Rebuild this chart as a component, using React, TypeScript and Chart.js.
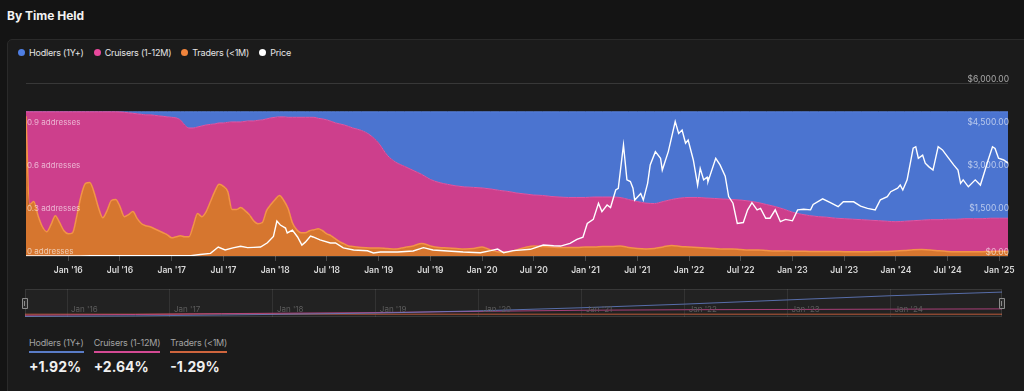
import React, { useEffect, useRef } from "react";
import { Chart, registerables } from "chart.js";

Chart.register(...registerables);

// ---------------- data (x = months since Jan 2015) ----------------
const areaMonths = [
  7.1, 7.5, 8, 8.5, 9, 9.5, 10, 10.5, 11, 11.5,
  12, 12.5, 13, 13.5, 14, 14.5, 15, 15.5, 16, 16.5,
  17, 17.5, 18, 18.5, 19, 19.5, 20, 20.5, 21, 21.5,
  22, 22.5, 23, 23.5, 24, 24.5, 25, 25.5, 26, 26.5,
  27, 27.5, 28, 28.5, 29, 29.5, 30, 30.5, 31, 31.5,
  32, 32.5, 33, 33.5, 34, 34.5, 35, 35.5, 36, 36.5,
  37, 37.5, 38, 38.5, 39, 39.5, 40, 40.5, 41, 41.5,
  42, 42.5, 43, 43.5, 44, 44.5, 45,
  46, 47, 48, 49, 50, 51, 52, 53, 54, 55,
  56, 57, 58, 59, 60, 61, 62, 63, 64, 65,
  66, 67, 68, 69, 70, 71, 72, 73, 74, 75,
  76, 77, 78, 79, 80, 81, 82, 83, 84, 85,
  86, 87, 88, 89, 90, 91, 92, 93, 94, 95,
  96, 97, 98, 99, 100, 101, 102, 103, 104, 105,
  106, 107, 108, 109, 110, 111, 112, 113, 114, 115,
  116, 117, 118, 119, 120, 121,
];

const tradersShare = [
  0.97, 0.357, 0.378, 0.28, 0.203, 0.168, 0.217, 0.28, 0.231, 0.175,
  0.154, 0.161, 0.28, 0.42, 0.503, 0.51, 0.441, 0.336, 0.266, 0.315,
  0.385, 0.392, 0.343, 0.273, 0.287, 0.308, 0.259, 0.224, 0.21, 0.203,
  0.189, 0.175, 0.161, 0.147, 0.126, 0.133, 0.14, 0.133, 0.133, 0.21,
  0.294, 0.273, 0.308, 0.378, 0.448, 0.497, 0.483, 0.448, 0.322, 0.322,
  0.336, 0.315, 0.287, 0.245, 0.224, 0.231, 0.315, 0.357, 0.392, 0.42,
  0.385, 0.329, 0.231, 0.182, 0.161, 0.161, 0.175, 0.182, 0.189, 0.175,
  0.154, 0.14, 0.119, 0.098, 0.084, 0.07, 0.066,
  0.059, 0.056, 0.056, 0.052, 0.049, 0.059, 0.07, 0.087, 0.07, 0.059,
  0.056, 0.052, 0.049, 0.052, 0.063, 0.042, 0.028, 0.028, 0.042, 0.059,
  0.07, 0.066, 0.063, 0.059, 0.059, 0.059, 0.063, 0.063, 0.066, 0.066,
  0.07, 0.059, 0.052, 0.049, 0.052, 0.063, 0.073, 0.066, 0.063, 0.059,
  0.056, 0.052, 0.049, 0.049, 0.045, 0.042, 0.042, 0.038, 0.035, 0.035,
  0.033, 0.033, 0.032, 0.032, 0.031, 0.031, 0.03, 0.03, 0.03, 0.03,
  0.031, 0.032, 0.034, 0.038, 0.043, 0.045, 0.042, 0.036, 0.032, 0.03,
  0.029, 0.029, 0.03, 0.032, 0.033, 0.032,
];

const cruisersShare = [
  0.03, 0.643, 0.622, 0.72, 0.797, 0.832, 0.783, 0.72, 0.769, 0.825,
  0.846, 0.839, 0.72, 0.58, 0.497, 0.49, 0.559, 0.664, 0.734, 0.685,
  0.615, 0.608, 0.656, 0.724, 0.706, 0.682, 0.727, 0.759, 0.769, 0.776,
  0.787, 0.797, 0.808, 0.818, 0.836, 0.825, 0.804, 0.776, 0.755, 0.678,
  0.601, 0.629, 0.601, 0.535, 0.468, 0.426, 0.44, 0.479, 0.608, 0.608,
  0.594, 0.619, 0.65, 0.692, 0.717, 0.713, 0.636, 0.601, 0.57, 0.545,
  0.58, 0.633, 0.731, 0.78, 0.801, 0.801, 0.787, 0.78, 0.766, 0.776,
  0.79, 0.794, 0.804, 0.818, 0.825, 0.829, 0.822,
  0.812, 0.783, 0.727, 0.647, 0.601, 0.563, 0.524, 0.479, 0.461, 0.451,
  0.441, 0.434, 0.43, 0.424, 0.409, 0.423, 0.427, 0.42, 0.395, 0.371,
  0.353, 0.354, 0.35, 0.35, 0.347, 0.347, 0.343, 0.346, 0.343, 0.343,
  0.336, 0.333, 0.326, 0.318, 0.312, 0.315, 0.319, 0.336, 0.343, 0.347,
  0.346, 0.347, 0.346, 0.343, 0.343, 0.339, 0.329, 0.319, 0.308, 0.29,
  0.271, 0.257, 0.248, 0.241, 0.238, 0.231, 0.229, 0.225, 0.222, 0.218,
  0.214, 0.209, 0.204, 0.203, 0.202, 0.203, 0.21, 0.216, 0.223, 0.225,
  0.23, 0.23, 0.229, 0.23, 0.229, 0.23,
];

const hodlersShare = [
  0, 0, 0, 0, 0, 0, 0, 0, 0, 0,
  0, 0, 0, 0, 0, 0, 0, 0, 0, 0,
  0, 0, 0.001, 0.003, 0.007, 0.01, 0.014, 0.017, 0.021, 0.021,
  0.024, 0.028, 0.031, 0.035, 0.038, 0.042, 0.056, 0.091, 0.112, 0.112,
  0.105, 0.098, 0.091, 0.087, 0.084, 0.077, 0.077, 0.073, 0.07, 0.07,
  0.07, 0.066, 0.063, 0.063, 0.059, 0.056, 0.049, 0.042, 0.038, 0.035,
  0.035, 0.038, 0.038, 0.038, 0.038, 0.038, 0.038, 0.038, 0.045, 0.049,
  0.056, 0.066, 0.077, 0.084, 0.091, 0.101, 0.112,
  0.129, 0.161, 0.217, 0.301, 0.35, 0.378, 0.406, 0.434, 0.469, 0.49,
  0.503, 0.514, 0.521, 0.524, 0.528, 0.535, 0.545, 0.552, 0.563, 0.57,
  0.577, 0.58, 0.587, 0.591, 0.594, 0.594, 0.594, 0.591, 0.591, 0.591,
  0.594, 0.608, 0.622, 0.633, 0.636, 0.622, 0.608, 0.598, 0.594, 0.594,
  0.598, 0.601, 0.605, 0.608, 0.612, 0.619, 0.629, 0.643, 0.657, 0.675,
  0.696, 0.71, 0.72, 0.727, 0.731, 0.738, 0.741, 0.745, 0.748, 0.752,
  0.755, 0.759, 0.762, 0.759, 0.755, 0.752, 0.748, 0.748, 0.745, 0.745,
  0.741, 0.741, 0.741, 0.738, 0.738, 0.738,
];

const priceMonths = [
  7.1, 8.75, 10.5, 12, 13.4, 14.6, 16.9, 18.6, 20.4, 21.5,
  23.3, 24.4, 25.6, 26.2, 27.3, 28.5, 29.4, 30.2, 31.1, 32.0,
  32.8, 33.5, 34.3, 35.1, 35.8, 36.2, 36.6, 37.2, 37.4, 38.0,
  38.6, 39.1, 39.5, 40.1, 40.4, 41.2, 42.4, 43.0, 43.9, 45.1,
  46.7, 47.4, 48.2, 50.2, 52.0, 53.2, 54.3, 56.0, 57.8, 59.8,
  61.0, 61.8, 62.5, 63.6, 65.6, 67.1, 68.3, 69.1, 70.2, 71.0,
  71.7, 72.2, 72.9, 73.5, 73.9, 74.5, 74.9, 75.5, 75.8, 76.4,
  76.8, 77.2, 77.5, 77.7, 78.4, 78.7, 79.2, 79.5, 80.1, 80.7,
  80.9, 81.6, 82.4, 82.8, 83.2, 83.6, 83.9, 84.5, 85.0, 85.3,
  85.7, 86.1, 86.2, 87.1, 87.6, 88.2, 88.6, 89.1, 89.6, 90.3,
  90.8, 91.3, 91.9, 92.3, 92.9, 93.4, 94.0, 94.6, 95.2, 96.0,
  96.6, 97.3, 98.1, 98.4, 99.5, 100.4, 101.3, 101.9, 103.1, 103.9,
  104.7, 105.6, 106.2, 107.0, 107.4, 108.2, 108.5, 108.8, 109.3, 110.0,
  110.3, 110.6, 111.1, 111.4, 111.8, 112.3, 112.9, 113.4, 114.0, 114.7,
  115.2, 115.5, 115.8, 116.4, 117.2, 117.8, 118.1, 118.7, 119.2, 119.5,
  119.9, 120.5, 121.0,
];

const priceUsd = [
  2, 1, 1, 1, 6, 11, 12, 12, 11, 12,
  9, 10, 8, 11, 50, 90, 310, 210, 280, 340,
  290, 300, 310, 460, 680, 1210, 1075, 970, 800, 900,
  660, 380, 480, 690, 660, 560, 450, 450, 280, 210,
  180, 105, 140, 140, 175, 290, 210, 175, 140, 115,
  185, 240, 115, 185, 232, 380, 355, 345, 440, 580,
  650, 1130, 1270, 1830, 1540, 1770, 1680, 2290, 2350, 3850,
  2640, 2580, 2350, 1940, 2170, 1940, 2520, 3160, 3620, 3390,
  2980, 3620, 4660, 4250, 4370, 3910, 4020, 3330, 2460, 3040,
  2640, 2730, 2580, 3390, 3160, 2770, 2060, 1830, 1130, 1160,
  1600, 1850, 1600, 1650, 1310, 1310, 1600, 1190, 1270, 1220,
  1600, 1620, 1600, 1790, 1980, 1850, 1710, 1880, 1880, 1730,
  1650, 1600, 1950, 2060, 2230, 2350, 2460, 2290, 2640, 3740,
  3790, 3390, 3500, 3220, 3100, 2980, 3790, 3680, 3440, 3160,
  2980, 2520, 2640, 2400, 2640, 2460, 2750, 3330, 3790, 3730,
  3390, 3330, 3220,
];

const xTickMonths = [12, 18, 24, 30, 36, 42, 48, 54, 60, 66, 72, 78, 84, 90, 96, 102, 108, 114, 120];
const xTickLabels = [
  "Jan '16", "Jul '16", "Jan '17", "Jul '17", "Jan '18", "Jul '18", "Jan '19", "Jul '19", "Jan '20", "Jul '20",
  "Jan '21", "Jul '21", "Jan '22", "Jul '22", "Jan '23", "Jul '23", "Jan '24", "Jul '24", "Jan '25",
];

const navYearMonths = [12, 24, 36, 48, 60, 72, 84, 96, 108];
const navYearLabels = ["Jan '16", "Jan '17", "Jan '18", "Jan '19", "Jan '20", "Jan '21", "Jan '22", "Jan '23", "Jan '24"];
const navMonths = [7.1, 20, 30, 48, 60, 72, 84, 96, 108, 121];
const navHodlers = [2, 4, 7, 14, 22, 33, 46, 61, 76, 89];
const navCruisers = [6, 9, 12, 16, 20, 24, 26, 27, 28, 29];
const navTraders = [10, 10, 11, 10, 10, 10, 10, 10, 10, 10];

const legendLabels = ["Hodlers (1Y+)", "Cruisers (1-12M)", "Traders (<1M)", "Price"];
const statLabels = ["Hodlers (1Y+)", "Cruisers (1-12M)", "Traders (<1M)"];
const statValues = ["+1.92%", "+2.64%", "-1.29%"];

// ---------------- styles ----------------
const legendDotColors = ["#4f7fe3", "#e8489c", "#f0843c", "#ffffff"];
const statLineColors = ["#5a7cc6", "#d44a94", "#cf653d"];
const FONT = "Inter, 'Noto Sans', sans-serif";

export default function App() {
  const mainRef = useRef<HTMLCanvasElement | null>(null);
  const navRef = useRef<HTMLCanvasElement | null>(null);

  useEffect(() => {
    document.body.style.margin = "0";
    document.body.style.background = "#141414";
    Chart.defaults.font.family = FONT;

    const xy = (xs: number[], ys: number[]) => xs.map((x, i) => ({ x, y: ys[i] }));

    const main = new Chart(mainRef.current as HTMLCanvasElement, {
      type: "line",
      data: {
        datasets: [
          {
            label: "Traders (<1M)",
            data: xy(areaMonths, tradersShare),
            yAxisID: "y",
            fill: "origin",
            backgroundColor: "#d6762f",
            borderColor: "#f39448",
            borderWidth: 1.5,
            pointRadius: 0,
            cubicInterpolationMode: "monotone",
            order: 1,
          },
          {
            label: "Cruisers (1-12M)",
            data: xy(areaMonths, cruisersShare),
            yAxisID: "y",
            fill: "-1",
            backgroundColor: "#cd3f8c",
            borderColor: "#e157a6",
            borderWidth: 1,
            pointRadius: 0,
            cubicInterpolationMode: "monotone",
            order: 1,
          },
          {
            label: "Hodlers (1Y+)",
            data: xy(areaMonths, hodlersShare),
            yAxisID: "y",
            fill: "-1",
            backgroundColor: "#4b74d0",
            borderColor: "#5a84df",
            borderWidth: 1,
            pointRadius: 0,
            cubicInterpolationMode: "monotone",
            order: 1,
          },
          {
            label: "Price",
            data: xy(priceMonths, priceUsd),
            yAxisID: "y1",
            fill: false,
            borderColor: "#ffffff",
            borderWidth: 1.4,
            pointRadius: 0,
            tension: 0,
            order: 0,
          },
        ],
      },
      options: {
        responsive: false,
        maintainAspectRatio: false,
        animation: false,
        layout: { padding: { left: 10, right: 16, top: 13, bottom: 0 } },
        plugins: { legend: { display: false }, tooltip: { enabled: false } },
        scales: {
          x: {
            type: "linear",
            min: 7.1,
            max: 121,
            afterBuildTicks: (s: any) => {
              s.ticks = xTickMonths.map((v) => ({ value: v }));
            },
            afterFit: (s: any) => {
              s.height = 26;
            },
            grid: { drawOnChartArea: false, drawTicks: true, tickLength: 5, color: "#4a4a4a" },
            border: { display: false },
            ticks: {
              autoSkip: false,
              maxRotation: 0,
              padding: 4,
              color: "#d9d9d9",
              font: { size: 8.5, weight: "600" },
              callback: (v: any) => {
                const i = xTickMonths.indexOf(Number(v));
                return i >= 0 ? xTickLabels[i] : "";
              },
            },
          },
          y: {
            type: "linear",
            position: "left",
            stacked: true,
            min: 0,
            max: 1.2,
            afterFit: (s: any) => {
              s.width = 0;
            },
            grid: { display: false },
            border: { display: false },
            ticks: {
              z: 1,
              stepSize: 0.3,
              mirror: true,
              padding: 1,
              labelOffset: -4,
              color: "rgba(255,255,255,0.6)",
              font: { size: 8 },
              callback: (v: any) => (Number(v) > 1.1 ? "" : `${Math.round(Number(v) * 10) / 10} addresses`),
            },
          },
          y1: {
            type: "linear",
            position: "right",
            min: 0,
            max: 6000,
            afterFit: (s: any) => {
              s.width = 0;
            },
            grid: { color: "rgba(255,255,255,0.13)", drawTicks: false },
            border: { display: false },
            ticks: {
              z: 1,
              stepSize: 1500,
              mirror: true,
              padding: 1,
              labelOffset: -4,
              color: "rgba(255,255,255,0.6)",
              font: { size: 8.5 },
              callback: (v: any) =>
                "$" + Number(v).toLocaleString("en-US", { minimumFractionDigits: 2, maximumFractionDigits: 2 }),
            },
          },
        },
      },
    } as any);

    const navDecor = {
      id: "navDecor",
      beforeDraw(chart: any) {
        const { ctx, chartArea: a } = chart;
        ctx.save();
        ctx.fillStyle = "#222222";
        ctx.fillRect(a.left, a.top, a.right - a.left, a.bottom - a.top);
        ctx.restore();
      },
      afterDraw(chart: any) {
        const { ctx, chartArea: a, scales } = chart;
        const xs = scales.x;
        ctx.save();
        ctx.font = `8px ${FONT}`;
        ctx.fillStyle = "#5c5c5c";
        ctx.textBaseline = "middle";
        navYearMonths.forEach((m, i) => {
          ctx.fillText(navYearLabels[i], xs.getPixelForValue(m) + 4, a.bottom - 7);
        });
        ctx.strokeStyle = "rgba(255,255,255,0.1)";
        ctx.lineWidth = 1;
        ctx.strokeRect(a.left + 0.5, a.top + 0.5, a.right - a.left - 1, a.bottom - a.top - 1);
        [a.left, a.right].forEach((hx: number) => {
          ctx.fillStyle = "#2b2b2b";
          ctx.strokeStyle = "#8c8c8c";
          ctx.beginPath();
          ctx.rect(Math.round(hx) - 2.5, a.top + 9.5, 5, 10);
          ctx.fill();
          ctx.stroke();
          ctx.beginPath();
          ctx.moveTo(Math.round(hx) - 0.5, a.top + 12);
          ctx.lineTo(Math.round(hx) - 0.5, a.top + 17);
          ctx.stroke();
        });
        ctx.restore();
      },
    };

    const nav = new Chart(navRef.current as HTMLCanvasElement, {
      type: "line",
      data: {
        datasets: [
          { data: xy(navMonths, navHodlers), borderColor: "rgba(105,135,215,0.75)", borderWidth: 1, pointRadius: 0 },
          { data: xy(navMonths, navCruisers), borderColor: "rgba(200,70,140,0.8)", borderWidth: 1, pointRadius: 0 },
          { data: xy(navMonths, navTraders), borderColor: "rgba(205,95,60,0.9)", borderWidth: 1, pointRadius: 0 },
        ],
      },
      options: {
        responsive: false,
        maintainAspectRatio: false,
        animation: false,
        layout: { padding: { left: 5, right: 8, top: 5, bottom: 5 } },
        plugins: { legend: { display: false }, tooltip: { enabled: false } },
        scales: {
          x: {
            type: "linear",
            min: 7.1,
            max: 121,
            afterBuildTicks: (s: any) => {
              s.ticks = navYearMonths.map((v) => ({ value: v }));
            },
            afterFit: (s: any) => {
              s.height = 0;
            },
            grid: { color: "#333333", drawTicks: false },
            border: { display: false },
            ticks: { display: false },
          },
          y: { display: false, min: 0, max: 100 },
        },
      },
      plugins: [navDecor],
    } as any);

    return () => {
      main.destroy();
      nav.destroy();
    };
  }, []);

  return (
    <div
      style={{
        position: "absolute",
        left: 0,
        top: 0,
        width: 1024,
        height: 391,
        background: "#141414",
        overflow: "hidden",
        fontFamily: FONT,
      }}
    >
      <div
        style={{
          position: "absolute",
          left: 7,
          top: 8,
          fontSize: 12,
          lineHeight: "15px",
          fontWeight: 700,
          color: "#f2f2f2",
        }}
      >
        By Time Held
      </div>
      <div
        style={{
          position: "absolute",
          left: 7,
          top: 39,
          width: 1040,
          height: 380,
          background: "#1b1b1b",
          border: "1px solid #2a2a2a",
          borderRadius: 5,
        }}
      />
      <div
        style={{
          position: "absolute",
          left: 18,
          top: 46,
          height: 12,
          display: "flex",
          alignItems: "center",
          fontSize: 9,
          letterSpacing: "-0.2px",
          color: "#e6e6e6",
        }}
      >
        {legendLabels.map((l, i) => (
          <div key={l} style={{ display: "flex", alignItems: "center", marginRight: 10 }}>
            <span
              style={{
                width: 7,
                height: 7,
                borderRadius: "50%",
                background: legendDotColors[i],
                marginRight: 4,
                display: "inline-block",
              }}
            />
            <span>{l}</span>
          </div>
        ))}
      </div>
      <canvas
        ref={mainRef}
        width={1008}
        height={212}
        style={{ position: "absolute", left: 16, top: 70, width: 1008, height: 212 }}
      />
      <canvas
        ref={navRef}
        width={990}
        height={38}
        style={{ position: "absolute", left: 20, top: 284, width: 990, height: 38 }}
      />
      <div style={{ position: "absolute", left: 29, top: 337, display: "flex" }}>
        {statLabels.map((l, i) => (
          <div key={l} style={{ marginRight: 10 }}>
            <div
              style={{
                fontSize: 9,
                lineHeight: "12px",
                letterSpacing: "-0.2px",
                color: "#a3a3a3",
                paddingBottom: 2,
                borderBottom: `2px solid ${statLineColors[i]}`,
              }}
            >
              {l}
            </div>
            <div
              style={{
                fontSize: 14,
                lineHeight: "18px",
                fontWeight: 700,
                color: "#f0f0f0",
                marginTop: 5,
              }}
            >
              {statValues[i]}
            </div>
          </div>
        ))}
      </div>
    </div>
  );
}
